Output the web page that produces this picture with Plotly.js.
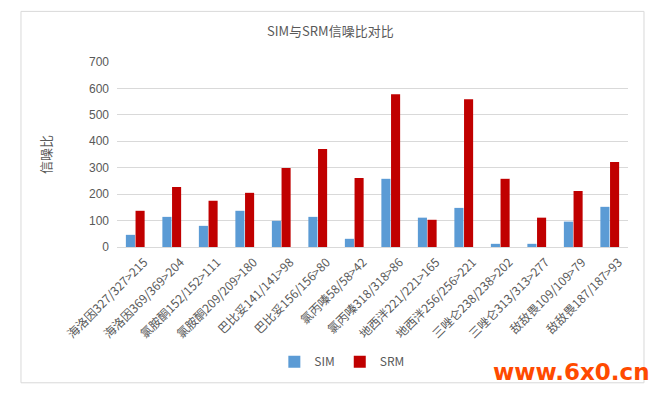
<!DOCTYPE html>
<html>
<head>
<meta charset="utf-8">
<script src="https://cdn.plot.ly/plotly-3.0.1.min.js"></script>
<style>
  html, body { margin: 0; padding: 0; background: #ffffff; }
  #chart { width: 666px; height: 394px; }
</style>
</head>
<body>
<div id="chart"></div>
<script>
const categories = [
  "海洛因327/327>215", "海洛因369/369>204", "氯胺酮152/152>111", "氯胺酮209/209>180",
  "巴比妥141/141>98", "巴比妥156/156>80", "氯丙嗪58/58>42", "氯丙嗪318/318>86",
  "地西泮221/221>165", "地西泮256/256>221", "三唑仑238/238>202", "三唑仑313/313>277",
  "敌敌畏109/109>79", "敌敌畏187/187>93"
];
const simValues = [46, 114, 80, 137, 99, 114, 31, 258, 111, 148, 12, 12, 96, 152];
const srmValues = [137, 227, 175, 205, 299, 371, 261, 578, 103, 559, 258, 111, 212, 322];
const yTicks = [0, 100, 200, 300, 400, 500, 600, 700];
const seriesNames = ["SIM", "SRM"];
const chartTitle = "SIM与SRM信噪比对比";
const yTitle = "信噪比";
const watermark = "www.6x0.cn";

const txt = "#595959";
const fontCJK = "'Noto Sans CJK SC', 'Noto Sans', sans-serif";

const data = [
  { type: "bar", name: seriesNames[0], x: categories, y: simValues,
    marker: { color: "#5B9BD5" } },
  { type: "bar", name: seriesNames[1], x: categories, y: srmValues,
    marker: { color: "#C00000" } }
];

const layout = {
  width: 666, height: 394,
  paper_bgcolor: "#ffffff", plot_bgcolor: "#ffffff",
  margin: { l: 117, r: 38, t: 62, b: 147, pad: 0 },
  barmode: "group",
  bargap: 0.47,
  bargroupgap: 0.06,
  font: { family: fontCJK, color: txt, size: 12 },
  title: { text: chartTitle, font: { family: fontCJK, size: 13, color: txt },
           xref: "container", x: 0.496, yref: "container", y: 0.921, yanchor: "middle" },
  xaxis: {
    type: "category",
    tickangle: -45,
    tickfont: { family: fontCJK, size: 12, color: txt },
    ticklabelshift: 9,
    ticklabelstandoff: 5,
    showline: false, showgrid: false, ticks: "", zeroline: false,
    automargin: false, fixedrange: true
  },
  yaxis: {
    range: [0, 700],
    tickvals: yTicks,
    ticktext: yTicks.map(String),
    tickfont: { family: "'Liberation Sans', sans-serif", size: 12, color: txt },
    ticklabelstandoff: 7,
    showgrid: true, gridcolor: "#d9d9d9", gridwidth: 1,
    zeroline: true, zerolinecolor: "#d9d9d9", zerolinewidth: 1,
    showline: false, ticks: "", ticklen: 0,
    title: { text: yTitle, font: { family: fontCJK, size: 13, color: txt }, standoff: 34 },
    automargin: false, fixedrange: true
  },
  showlegend: true,
  legend: {
    orientation: "h", x: 0.44, xanchor: "center", y: -0.62, yanchor: "middle",
    font: { family: fontCJK, size: 12, color: txt },
    itemwidth: 30, traceorder: "normal", bgcolor: "rgba(0,0,0,0)"
  },
  shapes: [
    { type: "rect", xref: "paper", yref: "paper",
      x0: -0.1879, x1: 1.0313, y0: -0.734, y1: 1.2736,
      line: { color: "#d9d9d9", width: 1 }, fillcolor: "rgba(0,0,0,0)", layer: "below" }
  ],
  annotations: [
    { text: "<b>" + watermark + "</b>", xref: "paper", yref: "paper",
      x: 0.89, y: -0.675, xanchor: "center", yanchor: "middle", showarrow: false,
      font: { family: "'DejaVu Sans', sans-serif", size: 23, color: "#ff4a00" } }
  ]
};

Plotly.newPlot("chart", data, layout, { displayModeBar: false, staticPlot: true });
</script>
</body>
</html>
